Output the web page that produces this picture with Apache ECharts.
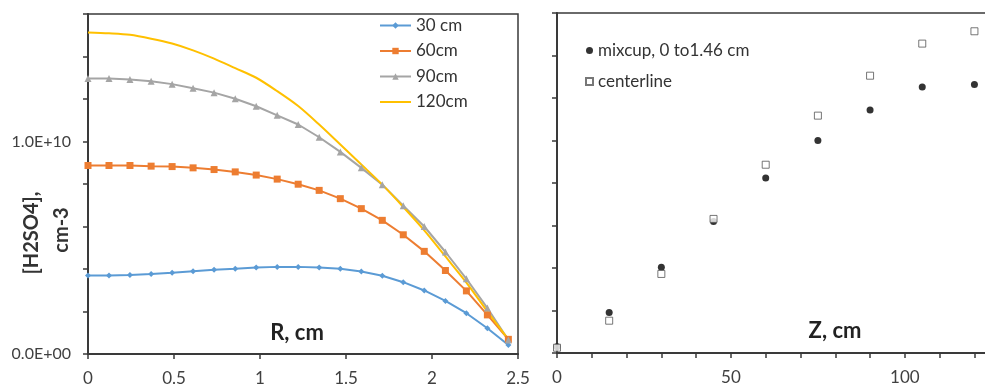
<!DOCTYPE html>
<html>
<head>
<meta charset="utf-8">
<script src="https://cdn.jsdelivr.net/npm/echarts@6/dist/echarts.min.js"></script>
<style>
  html, body { margin: 0; padding: 0; background: #fff; }
  #chart { width: 985px; height: 388px; }
</style>
</head>
<body>
<div id="chart"></div>
<script>
// Radial profiles of [H2SO4] (units of 1e10 cm-3) at four axial distances
const radius = [0, 0.122, 0.244, 0.367, 0.489, 0.611, 0.733, 0.856, 0.978, 1.1, 1.222,
                1.344, 1.467, 1.589, 1.711, 1.833, 1.955, 2.078, 2.2, 2.322, 2.444];
const profile30 = [0.369, 0.369, 0.372, 0.376, 0.382, 0.389, 0.396, 0.401, 0.407, 0.410, 0.410,
                   0.407, 0.401, 0.388, 0.368, 0.338, 0.299, 0.250, 0.192, 0.121, 0.042];
const profile60 = [0.887, 0.887, 0.887, 0.884, 0.882, 0.876, 0.868, 0.857, 0.842, 0.823, 0.799,
                   0.770, 0.731, 0.684, 0.629, 0.561, 0.483, 0.393, 0.297, 0.184, 0.069];
const profile90 = [1.297, 1.296, 1.292, 1.284, 1.270, 1.251, 1.230, 1.201, 1.166, 1.123, 1.080,
                   1.020, 0.951, 0.876, 0.797, 0.698, 0.600, 0.480, 0.354, 0.216, 0.066];
const profile120 = [1.513, 1.509, 1.502, 1.484, 1.461, 1.429, 1.390, 1.345, 1.300, 1.237, 1.167,
                    1.080, 0.986, 0.892, 0.797, 0.692, 0.582, 0.459, 0.336, 0.200, 0.069];
const profileNames = ['30 cm', '60cm', '90cm', '120cm'];

// Axial development: mixing-cup average and centerline value
const axialZ = [0, 15, 30, 45, 60, 75, 90, 105, 120];
const mixcup = [0.030, 0.191, 0.403, 0.619, 0.824, 1.000, 1.144, 1.252, 1.263];
const centerline = [0.025, 0.152, 0.372, 0.631, 0.886, 1.117, 1.305, 1.456, 1.514];
const axialNames = ['mixcup, 0 to1.46 cm', 'centerline'];

const FONT = 'Lato, "Open Sans", sans-serif';
const AXIS_COLOR = '#3a3a3a';
const TEXT_COLOR = '#404040';

const pairs = (xs, ys) => xs.map((x, i) => [x, ys[i]]);

const chart = echarts.init(document.getElementById('chart'), null, { renderer: 'canvas' });

const axisCommon = {
  axisLine: { show: true, onZero: false, lineStyle: { color: AXIS_COLOR, width: 2 } },
  axisTick: { show: true, inside: false, length: 5, lineStyle: { color: AXIS_COLOR, width: 1.5 } },
  splitLine: { show: false },
  axisLabel: { color: TEXT_COLOR, fontFamily: FONT, fontSize: 17 }
};

const option = {
  animation: false,
  backgroundColor: '#fff',
  textStyle: { fontFamily: FONT },
  grid: [
    { left: 88, top: 14, width: 430, height: 340, outerBoundsMode: 'none', containLabel: false,
      show: true, borderColor: AXIS_COLOR, borderWidth: 1.5, backgroundColor: 'transparent' },
    { left: 557, top: 13, width: 487, height: 340, outerBoundsMode: 'none', containLabel: false,
      show: true, borderColor: AXIS_COLOR, borderWidth: 1.5, backgroundColor: 'transparent' }
  ],
  xAxis: [
    Object.assign({}, axisCommon, {
      gridIndex: 0, type: 'value', min: 0, max: 2.5, interval: 0.5,
      axisLabel: Object.assign({}, axisCommon.axisLabel, { margin: 16, formatter: v => String(v) })
    }),
    Object.assign({}, axisCommon, {
      gridIndex: 1, type: 'value', min: 0, max: 140, interval: 10,
      axisLabel: Object.assign({}, axisCommon.axisLabel, { margin: 16, formatter: v => (v % 50 === 0 ? String(v) : '') })
    })
  ],
  yAxis: [
    Object.assign({}, axisCommon, {
      gridIndex: 0, type: 'value', min: 0, max: 1.6, interval: 0.2,
      axisLabel: Object.assign({}, axisCommon.axisLabel, {
        fontSize: 16, margin: 17,
        formatter: v => (Math.abs(v) < 1e-9 ? '0.0E+00' : (Math.abs(v - 1) < 1e-9 ? '1.0E+10' : ''))
      })
    }),
    Object.assign({}, axisCommon, {
      gridIndex: 1, type: 'value', min: 0, max: 1.6, interval: 0.2,
      axisLabel: { show: false }
    })
  ],
  legend: [
    {
      data: [
        { name: profileNames[0] },
        { name: profileNames[1] },
        { name: profileNames[2] },
        { name: profileNames[3], itemStyle: { opacity: 0 } }
      ],
      orient: 'vertical', left: 374, top: 12, itemGap: 8.5,
      itemWidth: 31, itemHeight: 8,
      textStyle: { color: '#333', fontFamily: FONT, fontSize: 17 }
    },
    {
      data: axialNames, orient: 'vertical', left: 580, top: 37, itemGap: 14,
      itemWidth: 7, itemHeight: 7,
      textStyle: { color: '#333', fontFamily: FONT, fontSize: 17 }
    }
  ],
  series: [
    {
      name: profileNames[0], type: 'line', xAxisIndex: 0, yAxisIndex: 0,
      data: pairs(radius, profile30), symbol: 'diamond', symbolSize: 6,
      lineStyle: { color: '#5B9BD5', width: 2 }, itemStyle: { color: '#5B9BD5' }
    },
    {
      name: profileNames[1], type: 'line', xAxisIndex: 0, yAxisIndex: 0,
      data: pairs(radius, profile60), symbol: 'rect', symbolSize: 7,
      lineStyle: { color: '#ED7D31', width: 2 }, itemStyle: { color: '#ED7D31' }
    },
    {
      name: profileNames[2], type: 'line', xAxisIndex: 0, yAxisIndex: 0,
      data: pairs(radius, profile90), symbol: 'triangle', symbolSize: 7,
      lineStyle: { color: '#A5A5A5', width: 2 }, itemStyle: { color: '#A5A5A5' }
    },
    {
      name: profileNames[3], type: 'line', xAxisIndex: 0, yAxisIndex: 0,
      data: pairs(radius, profile120), symbol: 'none', smooth: 0.3,
      lineStyle: { color: '#FFC000', width: 2 }, itemStyle: { color: '#FFC000' }
    },
    {
      name: axialNames[0], type: 'scatter', xAxisIndex: 1, yAxisIndex: 1,
      data: pairs(axialZ, mixcup), symbol: 'circle', symbolSize: 7,
      itemStyle: { color: '#000' }
    },
    {
      name: axialNames[1], type: 'scatter', xAxisIndex: 1, yAxisIndex: 1,
      data: pairs(axialZ, centerline), symbol: 'rect', symbolSize: 7,
      itemStyle: { color: '#fff', borderColor: '#555', borderWidth: 1 }
    }
  ],
  graphic: [
    {
      type: 'text', x: 32, y: 233, rotation: Math.PI / 2,
      style: { text: '[H2SO4],', fontFamily: FONT, fontSize: 20, fontWeight: 'bold', fill: '#333', align: 'center', verticalAlign: 'middle' }
    },
    {
      type: 'text', x: 62, y: 230, rotation: Math.PI / 2,
      style: { text: 'cm-3', fontFamily: FONT, fontSize: 20, fontWeight: 'bold', fill: '#333', align: 'center', verticalAlign: 'middle' }
    },
    {
      type: 'text', x: 297, y: 333,
      style: { text: 'R, cm', fontFamily: FONT, fontSize: 22, fontWeight: 'bold', fill: '#222', align: 'center', verticalAlign: 'middle' }
    },
    {
      type: 'text', x: 835, y: 331,
      style: { text: 'Z, cm', fontFamily: FONT, fontSize: 22, fontWeight: 'bold', fill: '#222', align: 'center', verticalAlign: 'middle' }
    }
  ]
};

chart.setOption(option);
</script>
</body>
</html>
